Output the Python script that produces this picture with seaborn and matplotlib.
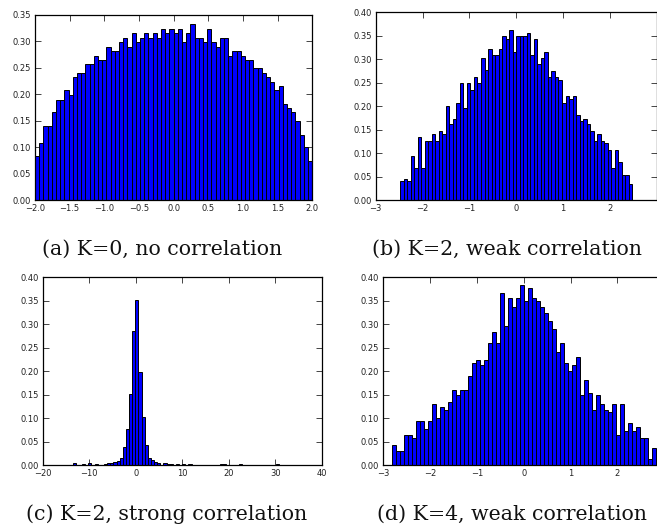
import numpy as np
import pandas as pd
import matplotlib
matplotlib.use("Agg")
import matplotlib.pyplot as plt
import seaborn as sns

# normalised histogram heights, 66 bins per panel
a_heights = [0.084, 0.1075, 0.14, 0.14, 0.166, 0.19, 0.19, 0.2075, 0.199, 0.2325,
             0.24, 0.24, 0.2575, 0.2575, 0.273, 0.265, 0.265, 0.29, 0.282, 0.282,
             0.298, 0.307, 0.29, 0.315, 0.298, 0.307, 0.315, 0.307, 0.315, 0.307,
             0.323, 0.315, 0.323, 0.315, 0.323, 0.298, 0.315, 0.333, 0.307, 0.307,
             0.298, 0.323, 0.298, 0.29, 0.307, 0.307, 0.273, 0.282, 0.282, 0.273,
             0.265, 0.265, 0.25, 0.25, 0.24, 0.2325, 0.224, 0.2075, 0.215, 0.1825,
             0.174, 0.166, 0.149, 0.124, 0.10, 0.075]
a_range = (-2.0, 2.0)

b_heights = [0.041, 0.045, 0.041, 0.095, 0.068, 0.134, 0.068, 0.127, 0.127, 0.141,
             0.127, 0.148, 0.141, 0.20, 0.162, 0.174, 0.208, 0.249, 0.196, 0.249,
             0.235, 0.262, 0.249, 0.302, 0.277, 0.322, 0.309, 0.309, 0.322, 0.35,
             0.343, 0.362, 0.316, 0.35, 0.35, 0.35, 0.355, 0.309, 0.343, 0.289,
             0.302, 0.316, 0.262, 0.276, 0.262, 0.255, 0.208, 0.222, 0.215, 0.222,
             0.181, 0.169, 0.174, 0.162, 0.148, 0.127, 0.141, 0.127, 0.121, 0.107,
             0.068, 0.107, 0.081, 0.054, 0.054, 0.034]
b_range = (-2.48, 2.485)

c_heights = [0.005, 0.0, 0.0, 0.002, 0.0, 0.004, 0.001, 0.002, 0.0, 0.0,
             0.003, 0.004, 0.004, 0.006, 0.010, 0.016, 0.038, 0.077, 0.151, 0.286,
             0.352, 0.199, 0.1035, 0.043, 0.016, 0.011, 0.006, 0.004, 0.001, 0.004,
             0.002, 0.002, 0.001, 0.002, 0.001, 0.002, 0.0, 0.002, 0.0, 0.0,
             0.0, 0.0, 0.0, 0.0, 0.0, 0.0, 0.0, 0.002, 0.002, 0.0,
             0.0, 0.0, 0.0, 0.002, 0.0, 0.0, 0.0, 0.0, 0.0, 0.0,
             0.0, 0.0, 0.0, 0.0, 0.0, 0.002]
c_range = (-13.55, 30.8)

d_heights = [0.0426, 0.0305, 0.0305, 0.064, 0.064, 0.059, 0.094, 0.094, 0.077, 0.094,
             0.131, 0.10, 0.123, 0.118, 0.135, 0.16, 0.149, 0.16, 0.16, 0.19,
             0.218, 0.223, 0.213, 0.223, 0.26, 0.283, 0.26, 0.366, 0.296, 0.355,
             0.337, 0.355, 0.384, 0.35, 0.378, 0.355, 0.35, 0.337, 0.325, 0.308,
             0.291, 0.242, 0.26, 0.218, 0.20, 0.213, 0.231, 0.149, 0.182, 0.153,
             0.118, 0.149, 0.131, 0.118, 0.113, 0.131, 0.064, 0.131, 0.072, 0.089,
             0.072, 0.082, 0.059, 0.059, 0.013, 0.036]
d_range = (-2.82, 2.83)

captions = ["(a) K=0, no correlation", "(b) K=2, weak correlation",
            "(c) K=2, strong correlation", "(d) K=4, weak correlation"]

sns.set_style("ticks")
plt.rcParams['font.family'] = ['DejaVu Sans']

W, H = 657, 526
fig = plt.figure(figsize=(W / 100, H / 100), dpi=100)


def px_axes(left, top, right, bottom):
    # axes rect given in pixel coords of the reference image
    return fig.add_axes([left / W, 1 - bottom / H, (right - left) / W, (bottom - top) / H])


def draw_hist(ax, heights, rng, xlim, ylim, xticks, yticks, xfmt, hide_last=False):
    n = len(heights)
    width = (rng[1] - rng[0]) / n
    df = pd.DataFrame({
        "x": [rng[0] + width * (i + 0.5) for i in range(n)],
        "h": heights,
    })
    sns.histplot(data=df, x="x", weights="h", bins=n, binrange=rng, stat="count",
                 color="#0000ff", edgecolor="black", linewidth=0.7, alpha=1, ax=ax)
    ax.set_xlim(*xlim)
    ax.set_ylim(*ylim)
    ax.set_xticks(xticks)
    ax.set_yticks(yticks)
    labels = [xfmt.format(t).replace("-", "\u2212") for t in xticks]
    if hide_last:
        # right end of the panel is cropped off in the source image
        labels[-1] = ""
    ax.set_xticklabels(labels)
    ax.set_yticklabels(["{:.2f}".format(t) for t in yticks])
    ax.set_xlabel("")
    ax.set_ylabel("")
    ax.tick_params(direction="in", top=True, right=True, length=4, width=0.6,
                   labelsize=6, pad=3, labelcolor="#222222")
    for s in ax.spines.values():
        s.set_linewidth(0.9)
        s.set_color("black")


ax_a = px_axes(35, 14.7, 312.3, 200.3)
draw_hist(ax_a, a_heights, a_range, (-2, 2), (0, 0.35),
          np.arange(-2, 2.01, 0.5), np.arange(0, 0.351, 0.05), "{:.1f}")

ax_b = px_axes(375.7, 12.3, 656.5, 200.3)
draw_hist(ax_b, b_heights, b_range, (-3, 3), (0, 0.4),
          list(range(-3, 4)), np.arange(0, 0.401, 0.05), "{:d}", hide_last=True)

ax_c = px_axes(42.7, 277.3, 322, 465.3)
draw_hist(ax_c, c_heights, c_range, (-20, 40), (0, 0.4),
          list(range(-20, 41, 10)), np.arange(0, 0.401, 0.05), "{:d}")

ax_d = px_axes(383.3, 277.3, 664.1, 465.3)
draw_hist(ax_d, d_heights, d_range, (-3, 3), (0, 0.4),
          list(range(-3, 4)), np.arange(0, 0.401, 0.05), "{:d}", hide_last=True)

cap_pos = [(162, 255), (507, 255), (167, 520), (512, 520)]
for (cx, cy), cap in zip(cap_pos, captions):
    fig.text(cx / W, 1 - cy / H, cap, ha="center", va="baseline",
             family=["DejaVu Serif"], fontsize=14.8, color="#111111")

fig.savefig("out.png", dpi=100)
